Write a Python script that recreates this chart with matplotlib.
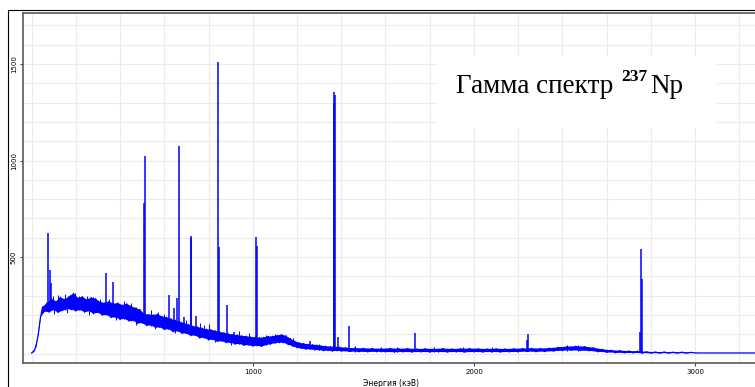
import numpy as np
import matplotlib
matplotlib.use("Agg")
import matplotlib.pyplot as plt
from matplotlib.patches import Rectangle

# continuum, 0-1400 keV in 10 keV steps (alternating low / high of the noise band)
cont_e1 = np.arange(0, 1401, 10)
cont_c1 = [3, 10, 35, 95, 185, 242, 218, 262, 214, 283,
           226, 270, 212, 292, 222, 281, 230, 296, 228, 312,
           220, 288, 226, 295, 214, 279, 220, 290, 206, 284,
           212, 268, 198, 262, 200, 270, 186, 258, 188, 262,
           176, 251, 180, 258, 168, 246, 170, 236, 156, 228,
           158, 205, 144, 202, 146, 200, 134, 204, 136, 192,
           124, 188, 126, 180, 112, 172, 116, 165, 104, 158,
           104, 150, 92, 142, 94, 138, 80, 132, 82, 126,
           70, 124, 72, 118, 62, 112, 64, 108, 56, 102,
           56, 98, 48, 96, 50, 92, 42, 90, 44, 86,
           38, 84, 40, 82, 36, 84, 44, 88, 48, 90,
           54, 94, 56, 98, 56, 92, 46, 78, 38, 64,
           30, 56, 26, 52, 22, 48, 22, 46, 18, 44,
           18, 40, 14, 38, 15, 36, 12, 35, 14, 34,
           12]

# continuum, 1420-3280 keV in 20 keV steps
cont_e2 = np.arange(1420, 3281, 20)
cont_c2 = [30, 10, 28, 9, 27, 8, 26, 9, 25, 8,
           27, 7, 25, 8, 26, 7, 24, 8, 25, 7,
           24, 8, 26, 7, 24, 8, 25, 7, 26, 8,
           25, 7, 24, 8, 25, 7, 24, 8, 25, 8,
           26, 10, 27, 9, 26, 10, 28, 12, 32, 15,
           36, 16, 38, 15, 36, 14, 30, 9, 22, 6,
           17, 4, 15, 3, 13, 3, 12, 2, 9, 2,
           8, 2, 8, 2, 7, 2, 7, 2, 6, 3,
           3, 3, 3, 3, 3, 3, 3, 3, 3, 3,
           3, 3, 3, 3]

# single-channel noise excursions off the band edges: energy, from, to
noise_e = [95, 100, 120, 150, 160, 175, 195, 215, 250, 260,
           280, 310, 350, 380, 420, 450, 470, 540, 560, 570,
           600, 650, 700, 760, 780, 800, 830, 900, 940, 985,
           1060, 1100, 1180, 1300, 1460, 1580, 1650, 1820, 1950, 2080,
           2420, 2470]
noise_lo = [230, 205, 230, 225, 210, 230, 235, 225, 220, 200,
            210, 210, 200, 175, 180, 170, 150, 145, 125, 135,
            125, 105, 105, 85, 80, 75, 60, 45, 50, 44,
            44, 54, 38, 18, 10, 8, 7, 7, 7, 8,
            15, 15]
noise_hi = [300, 275, 305, 310, 290, 305, 313, 300, 296, 275,
            295, 285, 282, 255, 270, 262, 240, 225, 200, 215,
            205, 175, 175, 160, 150, 155, 118, 100, 115, 105,
            95, 100, 80, 50, 40, 35, 36, 35, 34, 35,
            45, 44]

# gamma lines: energy (keV), peak top, foot on the continuum
peak_e = [74, 85, 89, 336, 368, 508, 513, 621, 642, 659,
          665, 689, 721, 723, 743, 844, 847, 885, 915, 1014,
          1017, 1071, 1137, 1259, 1366, 1368, 1371, 1387, 1436, 1733,
          2240, 2243, 2750, 2754, 2760]
peak_top = [624, 433, 365, 417, 370, 779, 1023, 303, 235, 288,
            1077, 191, 609, 598, 194, 1510, 553, 251, 113, 605,
            557, 92, 91, 66, 1300, 1355, 1340, 87, 142, 105,
            70, 99, 111, 541, 384]
peak_base = [230, 230, 230, 205, 195, 155, 155, 125, 120, 115,
             115, 110, 98, 98, 92, 66, 66, 60, 54, 42,
             42, 48, 56, 22, 14, 14, 14, 14, 10, 7,
             8, 8, 3, 3, 3]

x_ticks = [1000, 2000, 3000]
y_ticks = [500, 1000, 1500]

W, H = 755, 387
fig = plt.figure(figsize=(W / 100, H / 100), dpi=100)
ax = fig.add_axes([22.7 / W, (H - 363) / H, (760 - 22.7) / W, (363 - 13.3) / H])

blue = "#0000ff"
energy = np.concatenate([cont_e1, cont_e2])
counts = np.array(cont_c1 + cont_c2)

# solid noise band between the low and high readings, then the trace on top
band_x = np.concatenate([energy[0::2], energy[1::2][::-1]])
band_y = np.concatenate([counts[0::2], counts[1::2][::-1]])
ax.fill(band_x, band_y, color=blue, lw=0, zorder=2)
ax.plot(energy, counts, color=blue, lw=0.9, zorder=2)
ax.vlines(noise_e, noise_lo, noise_hi, color=blue, lw=0.7, zorder=2)
ax.vlines(peak_e, peak_base, peak_top, color=blue, lw=1.1, zorder=2)

ax.set_xlim(-40, 3293)
ax.set_ylim(-49, 1763)

ax.set_xticks(x_ticks)
ax.set_yticks(y_ticks)
ax.set_xticks(np.arange(0, 3300, 200), minor=True)
ax.set_yticks(np.arange(0, 1800, 100), minor=True)
ax.tick_params(which="minor", length=0)
ax.tick_params(which="major", length=2.2, width=0.8, color="#444444",
               labelsize=5, pad=2)
ax.tick_params(axis="y", labelrotation=90)
for lab in ax.get_yticklabels():
    lab.set_va("center")
ax.set_axisbelow(True)
ax.grid(which="both", color="#ebebeb", lw=0.8)
for s in ax.spines.values():
    s.set_color("#5a5a5a")
    s.set_linewidth(1.2)

ax.set_xlabel("Энергия (кэВ)", fontsize=5.5, labelpad=3)

# outer frame
fig.add_artist(Rectangle((8 / W, -0.1), 1.2, (H - 10) / H + 0.1,
                         transform=fig.transFigure, fill=False,
                         ec="black", lw=0.8))

# white box behind the title
ax.add_patch(Rectangle((437 / W, (H - 127) / H), (717 - 437) / W, 70 / H,
                       transform=fig.transFigure, fc="white", ec="none",
                       zorder=1, clip_on=False))

serif = ["Liberation Serif", "DejaVu Serif"]
base_y = (H - 93.3) / H
t1 = fig.text(456 / W, base_y, "Гамма спектр", family=serif, fontsize=19.5,
              va="baseline", color="black")
fig.canvas.draw()
r = fig.canvas.get_renderer()
x1 = t1.get_window_extent(r).x1
t2 = fig.text((x1 + 8) / W, base_y + 12.3 / H, "237", family=serif,
              fontsize=12.5, weight="bold", va="baseline", color="black")
fig.canvas.draw()
x2 = t2.get_window_extent(r).x1
fig.text((x2 + 3) / W, base_y, "Np", family=serif, fontsize=19.5,
         va="baseline", color="black")

fig.savefig("out.png", dpi=100)
